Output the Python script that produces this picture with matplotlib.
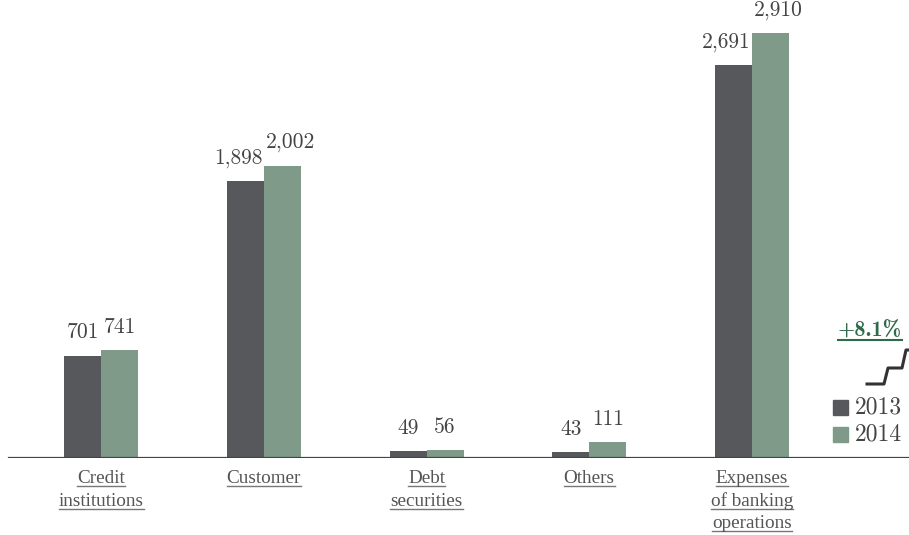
import matplotlib.pyplot as plt
from matplotlib.lines import Line2D
from matplotlib.patches import Rectangle

categories = [["Credit", "institutions"], ["Customer"], ["Debt", "securities"],
              ["Others"], ["Expenses", "of banking", "operations"]]
years = ["2013", "2014"]
values_2013 = [701, 1898, 49, 43, 2691]
values_2014 = [741, 2002, 56, 111, 2910]
growth_label = "+8.1%"

DARK = "#57585b"
GREEN = "#7f9a88"
TEXT = "#555555"
ACCENT = "#2f6b4b"

W, H = 909, 535
fig = plt.figure(figsize=(W / 100, H / 100), dpi=100)

# axes spans the full width, baseline sits at y=458px from the top
base_px = 458
ax = fig.add_axes([0, (H - base_px) / H, 1, base_px / H])
unit_px = 425 / 2910
ax.set_ylim(0, base_px / unit_px)
step = 162.75
ax.set_xlim(-101 / step, (W - 101) / step)
ax.axis("off")

bw = 37 / step
xs = range(len(categories))
ax.bar([x - bw / 2 for x in xs], values_2013, bw, color=DARK)
ax.bar([x + bw / 2 for x in xs], values_2014, bw, color=GREEN)
ax.axhline(0, xmin=9 / W, xmax=1, color="#444444", lw=1.6)


def fmt(v):
    return f"{v:,}"


num_font = dict(family="cmr10", size=15.5, color="#444444")
off = 9.5
for x, a, b in zip(xs, values_2013, values_2014):
    # wide labels hug the group centre so they don't collide
    if a >= 1000:
        ax.annotate(fmt(a), (x - 0.01, a), xytext=(0, off), textcoords="offset points",
                    ha="right", va="bottom", **num_font)
    else:
        ax.annotate(fmt(a), (x - bw / 2, a), xytext=(0, off), textcoords="offset points",
                    ha="center", va="bottom", **num_font)
    if b >= 1000:
        ax.annotate(fmt(b), (x + 0.01, b), xytext=(0, off), textcoords="offset points",
                    ha="left", va="bottom", **num_font)
    else:
        ax.annotate(fmt(b), (x + bw / 2, b), xytext=(0, off), textcoords="offset points",
                    ha="center", va="bottom", **num_font)


def fx(px):
    return px / W


def fy(py):
    return 1 - py / H


underlined = []
for x, lines in zip(xs, categories):
    cx = 101 + step * x
    for k, line in enumerate(lines):
        t = fig.text(fx(cx), fy(478.5 + 22.5 * k), line, ha="center", va="center",
                     family="Liberation Serif", size=13.8, color=TEXT)
        underlined.append((t, "#777777", 1.0))

# legend
for k, (label, col) in enumerate(zip(years, [DARK, GREEN])):
    y0 = 400 + 27 * k
    fig.patches.append(Rectangle((fx(833), fy(y0 + 15)), 15 / W, 15 / H,
                                 transform=fig.transFigure, color=col))
    fig.text(fx(855), fy(y0 + 7.5), label, ha="left", va="center",
             family="cmr10", size=17, color="#444444")

g = fig.text(fx(870), fy(331), growth_label, ha="center", va="center",
             family="cmb10", size=16, color=ACCENT)
underlined.append((g, ACCENT, 1.5))

# small step arrow under the growth figure
sx = [867, 884, 888, 902, 906, 910]
sy = [384, 384, 368, 368, 350, 350]
fig.lines.append(Line2D([fx(p) for p in sx], [fy(p) for p in sy],
                        transform=fig.transFigure, color="#333333", lw=2.2))

fig.canvas.draw()
r = fig.canvas.get_renderer()
for t, col, lw in underlined:
    bb = t.get_window_extent(r)
    y = bb.y0 + 1
    fig.lines.append(Line2D([bb.x0 / W, bb.x1 / W], [y / H, y / H],
                            transform=fig.transFigure, color=col, lw=lw))

fig.savefig("out.png", dpi=100)
